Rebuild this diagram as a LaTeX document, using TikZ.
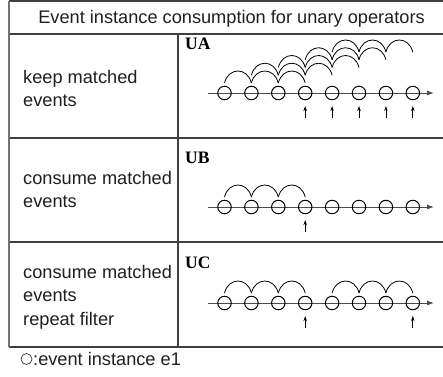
\documentclass[tikz,border=0pt]{standalone}
\usepackage{fontspec}
\setmainfont{Liberation Sans}
\newfontfamily\timesbold{Liberation Serif}
\usetikzlibrary{arrows.meta}

\begin{document}
\begin{tikzpicture}[x=1pt,y=-1pt,
  rule/.style={line width=1.5pt,draw=black!75},
  celltext/.style={anchor=base west,inner sep=0,text=black!88,
    font=\fontsize{18.2}{22}\selectfont},
  tag/.style={anchor=base west,inner sep=0,
    font=\timesbold\bfseries\fontsize{17.5}{17.5}\selectfont},
  ev/.style={circle,draw=black,line width=1pt,minimum size=13.5pt,inner sep=0},
  axisline/.style={draw=black!70,line width=1pt,-{Latex[length=7pt,width=5pt]}},
  hump/.style={draw=black,line width=0.8pt},
  uparrow/.style={draw=black,line width=0.8pt,-{Stealth[length=5pt,width=3.5pt]}},
]
\useasboundingbox (0,0) rectangle (443,376);

% table frame
\draw[rule] (9,1) -- (443,1);
\draw[rule] (9,34) -- (443,34);
\draw[rule] (9,138) -- (443,138);
\draw[rule] (9,242) -- (443,242);
\draw[rule] (9,347) -- (443,347);
\draw[rule,draw=black!55] (9,1) -- (9,347);
\draw[rule] (178,34) -- (178,347);

% header
\node[celltext,anchor=base] (head) at (231.5,23.5)
  {Event instance consumption for unary operators};

% left column
\node[celltext] (ka) at (23,83) {keep matched};
\node[celltext] (kb) at (23,106) {events};
\node[celltext] (ca) at (23,184) {consume matched};
\node[celltext] (cb) at (23,207) {events};
\node[celltext] (da) at (23,278) {consume matched};
\node[celltext] (db) at (23,301.5) {events};
\node[celltext] (dc) at (23,325) {repeat filter};

% row tags
\node[tag] (tua) at (185,49) {UA};
\node[tag] (tub) at (185,163) {UB};
\node[tag] (tuc) at (185,268) {UC};

% time axes with event instances
\foreach \r/\yy in {ua/93,ub/207,uc/303} {
  \coordinate (\r s) at (208,\yy);
  \coordinate (\r e) at (434,\yy);
  \draw[axisline] (\r s) -- (\r e);
  \foreach \i in {1,...,8}
    \node[ev] (\r\i) at ({224.5+(\i-1)*26.9},\yy) {};
}

% UA: overlapping windows of three matches each
\foreach \k in {1,...,5} {
  \pgfmathsetmacro\lift{10+(\k-1)*7.75}
  \foreach \j in {0,1,2} {
    \pgfmathtruncatemacro\a{\k+\j}
    \pgfmathtruncatemacro\b{\k+\j+1}
    \draw[hump] ([yshift=\lift pt]ua\a.center) .. controls +(4,-16) and +(-4,-16) .. ([yshift=\lift pt]ua\b.center);
  }
}
\foreach \i in {4,...,8}
  \draw[uparrow] ([yshift=-25pt]ua\i.center) -- ([yshift=-13pt]ua\i.center);

% UB: one window, then consumed
\foreach \a/\b in {1/2,2/3,3/4}
  \draw[hump] ([yshift=10pt]ub\a.center) .. controls +(4,-16) and +(-4,-16) .. ([yshift=10pt]ub\b.center);
\draw[uparrow] ([yshift=-25pt]ub4.center) -- ([yshift=-13pt]ub4.center);

% UC: windows repeat after consumption
\foreach \a/\b in {1/2,2/3,3/4,5/6,6/7,7/8}
  \draw[hump] ([yshift=10pt]uc\a.center) .. controls +(4,-16) and +(-4,-16) .. ([yshift=10pt]uc\b.center);
\foreach \i in {4,8}
  \draw[uparrow] ([yshift=-25pt]uc\i.center) -- ([yshift=-13pt]uc\i.center);

% legend
\node[circle,draw=black!80,line width=0.7pt,minimum size=11pt,inner sep=0] (key) at (26.5,359) {};
\node[celltext] (keytext) at (33,365) {:event instance e1};
\end{tikzpicture}
\end{document}
